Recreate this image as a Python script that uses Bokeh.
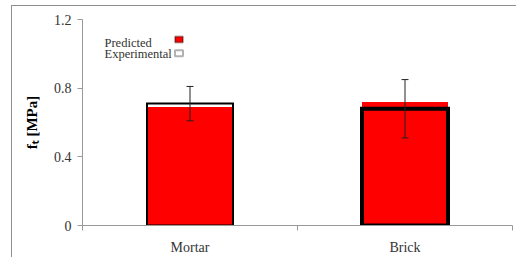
from bokeh.plotting import figure
from bokeh.models import (ColumnDataSource, Range1d, FixedTicker, Whisker, TeeHead,
                          BoxAnnotation, Label)
from bokeh.embed import file_html
from bokeh.resources import INLINE

categories = ["Mortar", "Brick"]
predicted = [0.69, 0.72]
experimental = [0.71, 0.68]
exp_error = [0.10, 0.17]
exp_outline_width = [2.0, 4.0]
ytick_vals = [0, 0.4, 0.8, 1.2]
ytick_labels = ["0", "0.4", "0.8", "1.2"]

xpos = [i + 0.5 for i in range(len(categories))]
src = ColumnDataSource(dict(
    x=xpos, cat=categories, pred=predicted, exp=experimental,
    lower=[e - d for e, d in zip(experimental, exp_error)],
    upper=[e + d for e, d in zip(experimental, exp_error)],
    lw=exp_outline_width,
))

FONT = "Liberation Serif"
GREY = "#8e8e8e"

p = figure(width=505, height=252, output_backend="svg", toolbar_location=None,
           x_range=Range1d(0, len(categories)), y_range=Range1d(0, 1.2),
           min_border_left=70, min_border_right=5, min_border_top=13, min_border_bottom=33,
           margin=(5, 0, 0, 11),
           styles={"border-top": f"1px solid {GREY}", "border-left": f"1px solid {GREY}"})
p.outline_line_color = None
p.xgrid.visible = False
p.ygrid.visible = False

# bars
p.vbar(x="x", top="exp", width=0.4, source=src, fill_color="white", line_color=None)
p.vbar(x="x", top="pred", width=0.4, source=src, fill_color="#ff0000", line_color=None)
p.vbar(x="x", top="exp", width=0.4, source=src, fill_color=None, line_color="black",
       line_width="lw", line_join="miter")

wh = Whisker(base="x", lower="lower", upper="upper", source=src, level="overlay",
             line_color="#222222", line_width=1,
             upper_head=TeeHead(size=7, line_color="#222222", line_width=1),
             lower_head=TeeHead(size=7, line_color="#222222", line_width=1))
p.add_layout(wh)

# x axis
xa = p.xaxis[0]
xa.ticker = FixedTicker(ticks=xpos, minor_ticks=list(range(len(categories) + 1)))
xa.major_label_overrides = {x: c for x, c in zip(xpos, categories)}
xa.major_tick_out = 0
xa.major_tick_in = 0
xa.minor_tick_out = 5
xa.minor_tick_in = 0
xa.axis_line_color = "#999999"
xa.minor_tick_line_color = "#999999"
xa.major_label_text_font = FONT
xa.major_label_text_font_size = "14px"
xa.major_label_text_color = "#333333"
xa.major_label_standoff = 9

# y axis
ya = p.yaxis[0]
ya.ticker = FixedTicker(ticks=ytick_vals, minor_ticks=[])
ya.major_label_overrides = {v: l for v, l in zip(ytick_vals, ytick_labels)}
ya.major_tick_out = 5
ya.major_tick_in = 0
ya.axis_line_color = "#999999"
ya.major_tick_line_color = "#999999"
ya.major_label_text_font = FONT
ya.major_label_text_font_size = "14px"
ya.major_label_text_color = "#333333"
ya.major_label_standoff = 6
ya.axis_label = "f\u209c [MPa]"
ya.axis_label_text_font = FONT
ya.axis_label_text_font_style = "bold"
ya.axis_label_text_font_size = "15px"
ya.axis_label_text_color = "black"
ya.axis_label_standoff = 11

# legend (label on the left, swatch on the right)
leg_items = [("Predicted", "#ff0000"), ("Experimental", "white")]
for i, (name, col) in enumerate(leg_items):
    p.add_layout(Label(x=91, y=35.7 + 11 * i, x_units="canvas", y_units="canvas",
                       text=name, text_font=FONT, text_font_size="12.5px",
                       text_color="#333333", text_baseline="alphabetic"))
    p.add_layout(BoxAnnotation(left=161.5, right=169.5, top=29 + 13.7 * i,
                               bottom=35 + 13.7 * i,
                               left_units="canvas", right_units="canvas",
                               top_units="canvas", bottom_units="canvas",
                               fill_color=col, fill_alpha=1, line_color="black",
                               line_width=2))

open("out.html", "w").write(file_html(p, INLINE))
